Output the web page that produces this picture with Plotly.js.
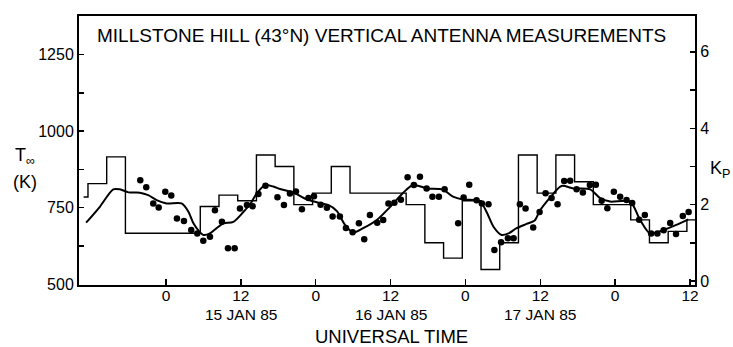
<!DOCTYPE html>
<html>
<head>
<meta charset="utf-8">
<script src="https://cdn.plot.ly/plotly-3.0.1.min.js"></script>
<style>html,body{margin:0;padding:0;background:#fff;}#chart{width:733px;height:347px;}</style>
</head>
<body>
<div id="chart"></div>
<script>
// ---- data (hours UT from 0 UT 15 Jan 1985) ----
const xTickVals = [0, 12, 24, 36, 48, 60, 72, 84];
const xTickText = ['0', '12', '0', '12', '0', '12', '0', '12'];
const dayLabels = ['15 JAN 85', '16 JAN 85', '17 JAN 85'];
const dayLabelHours = [12, 36, 60];
const tTickVals = [500, 750, 1000, 1250];
const tTickText = ['500', '750', '1000', '1250'];
const tMinorVals = [625, 875, 1125];
const kpTickVals = [0, 2, 4, 6];
const kpTickText = ['0', '2', '4', '6'];
const kpMinorVals = [1, 3, 5];

// Kp step function: interval edges and level of each interval
const kpEdges = [-13.2, -12.5, -9.5, -6.5, 5.5, 8.5, 11.5, 14.5, 17.5, 20.5, 23.5, 26.5, 29.5, 38.5,
  41.5, 44.5, 47.5, 50.5, 53.5, 56.5, 59.5, 62.5, 65.5, 68.5, 74.5, 77.5, 80.5, 83.5, 84.8];
const kpValues = [2.2, 2.55, 3.25, 1.25, 1.95, 2.25, 2.1, 3.3, 3.0, 2.0, 2.3, 3.0, 2.3, 2.0,
  1.0, 0.6, 2.1, 0.3, 1.0, 3.3, 2.3, 3.3, 2.6, 2.0, 1.6, 1.0, 1.3, 1.6];

// Model exospheric temperature curve
const modelHours = [-12.8, -10.6, -8.45, -7.4, -6.0, -4.2, -2.85, -1.5, 0.1, 2.5, 3.6, 4.4, 5.35, 6.0,
  7.05, 8.1, 9.2, 10.8, 12.4, 13.5, 14.5, 15.9, 17.2, 18.3, 20.4, 22.5, 24.7, 26.0, 27.4, 28.7,
  30.0, 31.6, 33.8, 35.9, 38.0, 39.6, 41.8, 44.4, 46.0, 47.6, 49.8, 50.6, 51.4, 52.5, 53.8, 54.9,
  56.2, 57.8, 59.1, 59.9, 61.5, 63.4, 65.3, 68.0, 69.6, 71.2, 74.4, 76.0, 77.6, 79.7, 81.8, 83.7];
const modelTemp = [701, 753, 810, 810, 800, 799, 791, 775, 764, 764, 737, 699, 672, 661,
  666, 683, 699, 704, 736, 762, 795, 824, 819, 811, 800, 778, 765, 759, 739, 694,
  669, 683, 710, 752, 798, 824, 813, 809, 786, 777, 774, 764, 736, 688, 661, 666,
  683, 697, 708, 739, 781, 821, 813, 810, 781, 770, 770, 710, 666, 677, 694, 712];

// Measured exospheric temperatures
const obsHours = [-4.12, -3.16, -2.04, -1.17, -0.11, 0.85, 1.76, 2.88, 4.05, 5.02, 5.98, 7.05, 7.85, 8.97,
  9.94, 11.01, 11.86, 12.98, 13.89, 14.82, 15.95, 17.87, 18.91, 19.87, 20.83, 21.79, 22.84, 23.72,
  24.79, 25.8, 26.71, 27.88, 28.85, 29.92, 30.93, 31.78, 32.69, 33.86, 34.82, 35.66, 36.62, 37.66,
  38.73, 39.74, 40.71, 41.78, 42.71, 43.75, 44.66, 46.84, 47.71, 48.61, 49.79, 50.64, 51.7, 52.64,
  53.72, 54.81, 55.72, 56.73, 57.64, 58.86, 59.89, 60.85, 61.81, 62.77, 63.83, 64.79, 65.82, 66.83,
  67.95, 68.91, 69.84, 70.75, 71.79, 72.8, 73.83, 74.73, 75.85, 76.76, 77.77, 78.77, 79.78, 80.82,
  81.76, 82.85, 83.78];
const obsTemp = [840, 817, 764, 751, 802, 790, 715, 707, 677, 666, 642, 655, 742, 704,
  618, 618, 747, 759, 755, 795, 822, 784, 759, 796, 803, 745, 782, 787,
  760, 750, 721, 721, 684, 670, 699, 647, 726, 701, 710, 764, 766, 776,
  849, 824, 851, 813, 786, 786, 810, 699, 783, 825, 774, 764, 761, 612,
  637, 650, 650, 761, 747, 685, 736, 797, 782, 761, 837, 838, 810, 800,
  824, 825, 773, 748, 802, 786, 775, 765, 711, 726, 666, 666, 676, 700,
  664, 723, 736];

// ---- drawing ----
const FONT = 'Liberation Sans, Arial, sans-serif';
const kpY = kpValues.concat([kpValues[kpValues.length - 1]]);

const traces = [
  {x: kpEdges, y: kpY, yaxis: 'y2', type: 'scatter', mode: 'lines',
   line: {shape: 'hv', color: '#000', width: 1.4}, hoverinfo: 'skip'},
  {x: modelHours, y: modelTemp, type: 'scatter', mode: 'lines',
   line: {shape: 'spline', smoothing: 0.8, color: '#000', width: 2}},
  {x: obsHours, y: obsTemp, type: 'scatter', mode: 'markers',
   marker: {color: '#000', size: 6.5}}
];

const annotations = dayLabels.map((t, i) => ({
  text: t, x: dayLabelHours[i], xref: 'x', y: 0, yref: 'paper',
  yanchor: 'middle', xanchor: 'center', yshift: -29, showarrow: false,
  font: {family: FONT, size: 15.5, color: '#000'}
}));
annotations.push(
  {text: 'UNIVERSAL TIME', x: 0.508, xref: 'paper', y: 0, yref: 'paper', yanchor: 'middle',
   xanchor: 'center', yshift: -51, showarrow: false, font: {family: FONT, size: 18.5, color: '#000'}},
  {text: 'T<sub>∞</sub>', x: -0.088, xref: 'paper', y: 0.476, yref: 'paper', xanchor: 'center',
   yanchor: 'middle', showarrow: false, font: {family: FONT, size: 18, color: '#000'}},
  {text: '(K)', x: -0.088, xref: 'paper', y: 0.383, yref: 'paper', xanchor: 'center',
   yanchor: 'middle', showarrow: false, font: {family: FONT, size: 18, color: '#000'}},
  {text: 'K<sub>P</sub>', x: 1.041, xref: 'paper', y: 0.43, yref: 'paper', xanchor: 'center',
   yanchor: 'middle', showarrow: false, font: {family: FONT, size: 18, color: '#000'}}
);

const layout = {
  width: 733, height: 347,
  margin: {l: 79, r: 38, t: 16, b: 62, pad: 0},
  paper_bgcolor: '#fff', plot_bgcolor: '#fff',
  showlegend: false,
  font: {family: FONT, color: '#000', size: 16},
  title: {text: 'MILLSTONE HILL (43°N) VERTICAL ANTENNA MEASUREMENTS',
    x: 97 / 733, xanchor: 'left', y: 1 - 35.5 / 347, yanchor: 'middle',
    font: {family: FONT, size: 19, color: '#000'}},
  xaxis: {range: [-13.94, 84.8], showgrid: false, zeroline: false,
    showline: true, linecolor: '#000', linewidth: 2, mirror: true,
    tickmode: 'array', tickvals: xTickVals, ticktext: xTickText,
    ticks: 'inside', ticklen: 6, tickwidth: 1.5, tickcolor: '#000',
    ticklabelstandoff: -5,
    tickfont: {family: FONT, size: 15.5, color: '#000'}},
  yaxis: {range: [497.7, 1375.7], showgrid: false, zeroline: false,
    showline: true, linecolor: '#000', linewidth: 2,
    tickmode: 'array', tickvals: tTickVals, ticktext: tTickText,
    ticks: 'inside', ticklen: 5, tickwidth: 1.5, tickcolor: '#000',
    minor: {tickmode: 'array', tickvals: tMinorVals, ticks: 'inside', ticklen: 5, tickwidth: 1.5, tickcolor: '#000', showgrid: false},
    tickfont: {family: FONT, size: 16, color: '#000'}},
  yaxis2: {range: [-0.105, 6.94], overlaying: 'y', side: 'right', showgrid: false, zeroline: false,
    showline: true, linecolor: '#000', linewidth: 2,
    tickmode: 'array', tickvals: kpTickVals, ticktext: kpTickText,
    ticks: 'inside', ticklen: 5, tickwidth: 1.5, tickcolor: '#000',
    minor: {tickmode: 'array', tickvals: kpMinorVals, ticks: 'inside', ticklen: 5, tickwidth: 1.5, tickcolor: '#000', showgrid: false},
    tickfont: {family: FONT, size: 16, color: '#000'}},
  annotations: annotations
};

Plotly.newPlot('chart', traces, layout, {staticPlot: true, displayModeBar: false});
</script>
</body>
</html>
